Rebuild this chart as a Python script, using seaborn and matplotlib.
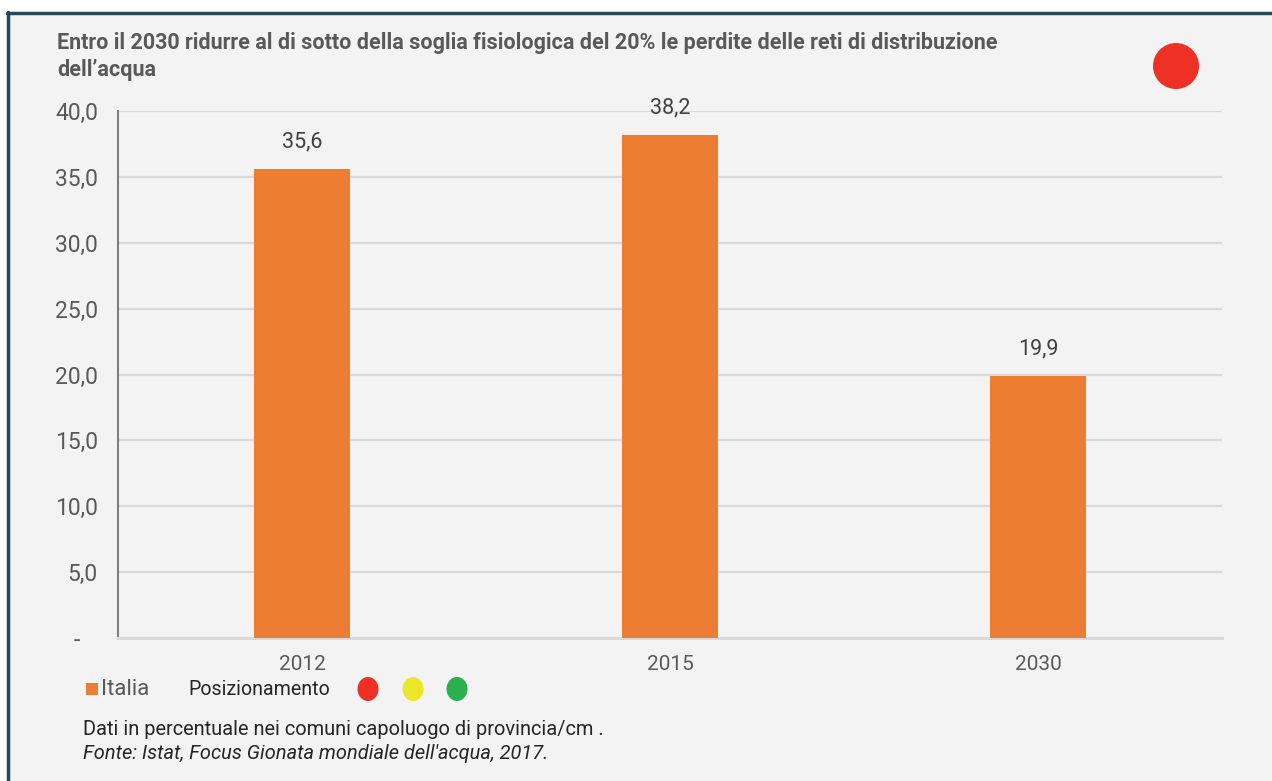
import matplotlib
matplotlib.use("Agg")
import matplotlib.pyplot as plt
import matplotlib.patches as mpatches
from matplotlib.lines import Line2D
from matplotlib.transforms import ScaledTranslation
import seaborn as sns
import pandas as pd

# ------------------------------------------------------------------------------
# Data (perdite delle reti di distribuzione dell'acqua, %)
# ------------------------------------------------------------------------------
years = ["2012", "2015", "2030"]
losses = [35.6, 38.2, 19.9]
y_ticks = [0, 5, 10, 15, 20, 25, 30, 35, 40]
y_tick_labels = ["-", "5,0", "10,0", "15,0", "20,0", "25,0", "30,0", "35,0", "40,0"]
value_labels = ["35,6", "38,2", "19,9"]
series_name = "Italia"
status_colors = ["#EE3124", "#EDE72B", "#2BB04F"]

title_lines = ["Entro il 2030 ridurre al di sotto della soglia fisiologica del 20% le perdite "
               "delle reti di distribuzione",
               "dell\u2019acqua"]
note = "Dati in percentuale nei comuni capoluogo di provincia/cm ."
source = "Fonte: Istat, Focus Gionata mondiale dell'acqua, 2017."

BAR = "#ED7D31"
BG = "#F3F3F3"
BORDER = "#1F4A5C"
GRID = "#D9D9D9"
TXT = "#595959"

W, H = 1272, 781


def px(x, y):
    # pixel coords (origin top-left) -> figure fraction
    return x / W, 1 - y / H


sns.set_theme(style="white")
plt.rcParams["font.family"] = ["Roboto", "DejaVu Sans"]

fig = plt.figure(figsize=(W / 100, H / 100), dpi=100, facecolor="white")

# panel background + border
fig.add_artist(mpatches.Rectangle(px(8, H), (W - 8) / W, (H - 13) / H,
                                  transform=fig.transFigure, facecolor=BG,
                                  edgecolor="none", zorder=0))
fig.add_artist(Line2D([px(7, 0)[0], 1], [px(0, 13)[1]] * 2, transform=fig.transFigure,
                      color=BORDER, lw=2.5, zorder=1))
fig.add_artist(Line2D([px(8, 0)[0]] * 2, [px(0, 12)[1], 0], transform=fig.transFigure,
                      color=BORDER, lw=2.5, zorder=1))

l, t = px(118, 111)
r, b = px(1222, 638)
ax = fig.add_axes([l, b, r - l, t - b])
ax.set_facecolor(BG)

df = pd.DataFrame({"anno": years, "perdite": losses})
sns.barplot(data=df, x="anno", y="perdite", color=BAR, width=0.26,
            saturation=1, linewidth=0, ax=ax, zorder=3)

ax.set_xlim(-0.5, 2.5)
ax.set_ylim(0, 40)
ax.set_yticks(y_ticks)
ax.set_yticklabels(y_tick_labels)
ax.set_xlabel("")
ax.set_ylabel("")

# grid + spines
ax.yaxis.grid(True, color=GRID, lw=1.6, zorder=0)
ax.set_axisbelow(True)
for s in ["top", "right"]:
    ax.spines[s].set_visible(False)
ax.spines["left"].set_color("#808080")
ax.spines["left"].set_linewidth(1.5)
ax.spines["bottom"].set_color(GRID)
ax.spines["bottom"].set_linewidth(2.2)

ax.tick_params(axis="y", direction="inout", length=11, width=1.5, color="#808080",
               labelsize=16.5, labelcolor=TXT, pad=9)
ax.tick_params(axis="x", length=0, labelsize=15, labelcolor=TXT, pad=12)

# the "-" zero label sits further left
zero_lbl = ax.get_yticklabels()[0]
zero_lbl.set_transform(zero_lbl.get_transform() +
                       ScaledTranslation(-13 / 72, 0, fig.dpi_scale_trans))

ax.bar_label(ax.containers[0], labels=value_labels, padding=12,
             fontsize=15.5, color="#404040")

# title (two lines, placed on their baselines)
for yb, line in zip([49, 76], title_lines):
    fig.text(*px(57, yb), line, fontsize=15.5, fontweight="bold", color=TXT,
             va="baseline", ha="left")

# status dot (top right)
cx, cy = px(1176, 66)
fig.add_artist(mpatches.Ellipse((cx, cy), 46 / W, 46 / H, transform=fig.transFigure,
                                facecolor=status_colors[0], edgecolor="none"))

# legend row
fig.add_artist(mpatches.Rectangle(px(86, 695), 12 / W, 12 / H, transform=fig.transFigure,
                                  facecolor=BAR, edgecolor="none"))
fig.text(*px(101, 695), series_name, fontsize=16, color=TXT, va="baseline", ha="left")
fig.text(*px(188, 695), "Posizionamento", fontsize=14.1, color="#262626",
         va="baseline", ha="left")
for xc, c in zip([368, 413, 457], status_colors):
    fig.add_artist(mpatches.Ellipse(px(xc, 689), 21 / W, 24 / H,
                                    transform=fig.transFigure,
                                    facecolor=c, edgecolor="none"))

# notes
fig.text(*px(83, 735), note, fontsize=14.4, color="#262626", va="baseline", ha="left")
fig.text(*px(83, 759), source, fontsize=14.4, color="#262626", va="baseline",
         ha="left", style="italic")

fig.savefig("out.png", dpi=100, facecolor=fig.get_facecolor())
